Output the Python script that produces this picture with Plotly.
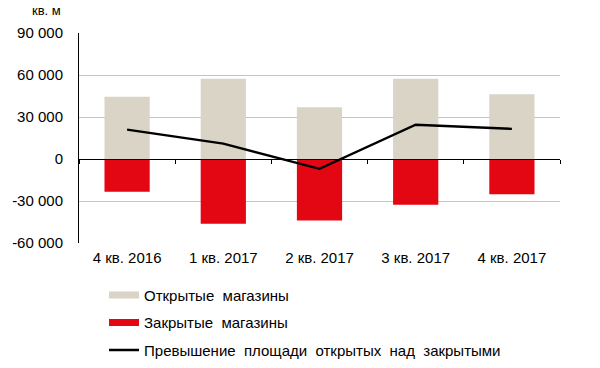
import plotly.graph_objects as go

categories = ["4 кв. 2016", "1 кв. 2017", "2 кв. 2017", "3 кв. 2017", "4 кв. 2017"]
opened = [44500, 57300, 37000, 57300, 46300]
closed = [-23400, -46300, -43900, -32700, -25100]
excess = [21000, 11000, -7000, 24500, 21500]
y_ticks = [-60000, -30000, 0, 30000, 60000, 90000]
y_tick_text = ["-60 000", "-30 000", "0", "30 000", "60 000", "90 000"]

S = "\u00a0 "
names = ["Открытые" + S + "магазины", "Закрытые" + S + "магазины",
         "Превышение" + S + "площади" + S + "открытых" + S + "над" + S + "закрытыми"]
c_open = "#d9d4c6"
c_closed = "#e30613"
FONT = "Liberation Sans, Arial, sans-serif"

fig = go.Figure()
fig.add_trace(go.Bar(x=categories, y=opened, marker=dict(color=c_open, line=dict(width=0)),
                     width=0.47, showlegend=False, hoverinfo="skip"))
fig.add_trace(go.Bar(x=categories, y=closed, marker=dict(color=c_closed, line=dict(width=0)),
                     width=0.47, showlegend=False, hoverinfo="skip"))
fig.add_trace(go.Scatter(x=categories, y=excess, mode="lines", line=dict(color="black", width=2.4),
                         xaxis="x2", showlegend=False))
# legend entries
fig.add_trace(go.Scatter(x=[None], y=[None], mode="lines", line=dict(color=c_open, width=7),
                         name=names[0], legendgroup="a"))
fig.add_trace(go.Scatter(x=[None], y=[None], mode="lines", line=dict(color=c_closed, width=7),
                         name=names[1], legendgroup="b"))
fig.add_trace(go.Scatter(x=[None], y=[None], mode="lines", line=dict(color="black", width=2.4),
                         name=names[2], legendgroup="c"))

fig.update_layout(
    width=600, height=368,
    margin=dict(l=79, r=40, t=33, b=125, autoexpand=False),
    paper_bgcolor="white", plot_bgcolor="white",
    barmode="relative",
    font=dict(family=FONT, size=15, color="black"),
    xaxis=dict(type="category", range=[-0.5, 4.5], showgrid=False, showline=False,
               ticks="", tickfont=dict(size=15), zeroline=False, automargin=False,
               ticklabelstandoff=4),
    xaxis2=dict(type="category", range=[-0.5, 4.5], overlaying="x", anchor="free", position=0.4,
                side="bottom", showline=True, linecolor="black", linewidth=1,
                ticks="outside", ticklen=4, tickcolor="black", tickson="boundaries",
                showticklabels=False, showgrid=False, zeroline=False, automargin=False),
    yaxis=dict(range=[-60000, 90000], tickvals=y_ticks, ticktext=y_tick_text,
               showgrid=True, gridcolor="#c4c4c4", gridwidth=1.3, zeroline=False,
               showline=True, linecolor="black", linewidth=1, ticks="", ticklabelstandoff=12,
               tickfont=dict(size=15), automargin=False),
    legend=dict(x=0.052, y=-0.17, xanchor="left", yanchor="top", orientation="v",
                tracegroupgap=5, font=dict(size=15), itemwidth=30, bgcolor="rgba(0,0,0,0)"),
    annotations=[dict(text="кв. м", xref="paper", yref="paper", x=-0.034, y=1.06,
                      xanchor="right", yanchor="bottom", showarrow=False, font=dict(size=13))],
)

fig.write_html("out.html", config={"displayModeBar": False},
               post_script="document.body.style.margin='0';")
